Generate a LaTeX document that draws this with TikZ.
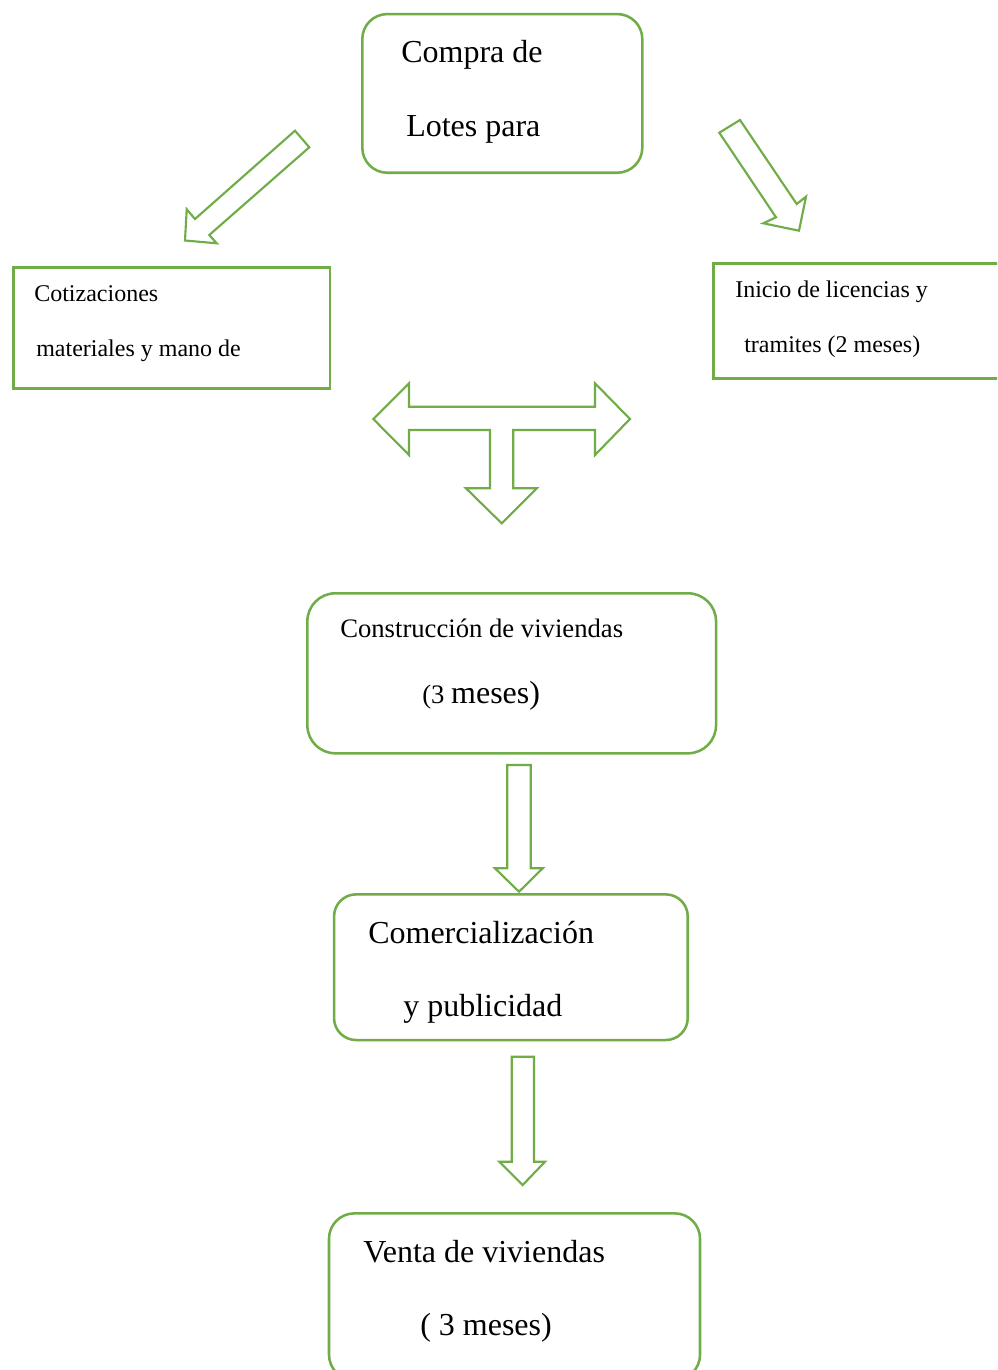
\documentclass[tikz,border=0pt]{standalone}
\usepackage{fontspec}
\setmainfont{Liberation Serif}
\definecolor{grn}{HTML}{70AD47}
\tikzset{
  box/.style={draw=grn, line width=1.9pt, fill=white, inner sep=0pt},
  rbox/.style={box, rounded corners=#1},
  txt/.style={anchor=base west, inner sep=0pt, text=black},
  blockarrow/.style={draw=grn, line width=1.6pt, fill=white, line join=miter}
}
\begin{document}
\begin{tikzpicture}[x=0.75pt, y=-0.75pt]
\useasboundingbox (0,0) rectangle (997,1370);
\fill[white] (0,0) rectangle (997,1370);
\begin{scope}
\clip (0,0) rectangle (997,1370);
% boxes
\node[rbox=18.75pt, minimum width=210pt, minimum height=119pt] (compra) at (502.3,93.4) {};
\node[box, minimum width=237.5pt, minimum height=90.75pt] (cotiz) at (171.7,327.8) {};
\node[box, minimum width=222.5pt, minimum height=86.25pt] (inicio) at (861.7,320.8) {};
\node[rbox=21pt, minimum width=306.5pt, minimum height=120pt] (constr) at (511.7,673.3) {};
\node[rbox=16.5pt, minimum width=265.25pt, minimum height=109.25pt] (comerc) at (510.9,967.2) {};
\node[rbox=19pt, minimum width=278.25pt, minimum height=125pt] (venta) at (514.5,1296.7) {};

% texts
\node[txt, font=\fontsize{24pt}{28pt}\selectfont] (t1) at (401,63) {Compra de};
\node[txt, font=\fontsize{24pt}{28pt}\selectfont] (t2) at (406,136) {Lotes para};
\node[txt, font=\fontsize{18pt}{22pt}\selectfont] (t3) at (34,301) {Cotizaciones};
\node[txt, font=\fontsize{18pt}{22pt}\selectfont] (t4) at (36,356) {materiales y mano de};
\node[txt, font=\fontsize{18pt}{22pt}\selectfont] (t5) at (735,297.5) {Inicio de licencias y};
\node[txt, font=\fontsize{18pt}{22pt}\selectfont] (t6) at (744,352) {tramites (2 meses)};
\node[txt, font=\fontsize{20pt}{24pt}\selectfont] (t7) at (340,637) {Construcción de viviendas};
\node[txt] (t8) at (422,703) {\fontsize{20pt}{24pt}\selectfont(3 \fontsize{24pt}{28pt}\selectfont meses)};
\node[txt, font=\fontsize{24pt}{28pt}\selectfont] (t9) at (368,943) {Comercialización};
\node[txt, font=\fontsize{24pt}{28pt}\selectfont] (t10) at (403,1016) {y publicidad};
\node[txt, font=\fontsize{24pt}{28pt}\selectfont] (t11) at (363,1262) {Venta de viviendas};
\node[txt, font=\fontsize{24pt}{28pt}\selectfont] (t12) at (420,1335.5) {( 3 meses)};
\end{scope}

% diagonal arrow to the left box
\draw[blockarrow] (295,130.7) -- (309.3,147.3) -- (209.3,235) -- (216.7,243.3)
  -- (185,240.5) -- (186.7,209.3) -- (195,219) -- cycle;
% diagonal arrow to the right box
\draw[blockarrow] (719.3,132.7) -- (740,120) -- (796.7,204) -- (806,196.7)
  -- (799,230.7) -- (763.3,223.3) -- (776,217.3) -- cycle;
% T-shaped three-way arrow
\draw[blockarrow] (373.3,419) -- (409,383.3) -- (409,406.7) -- (595,406.7) -- (595,383.3)
  -- (630,419) -- (595,455) -- (595,430) -- (513.3,430) -- (513.3,488.3) -- (536.7,488.3)
  -- (501.7,523.3) -- (466,488.3) -- (490,488.3) -- (490,430) -- (409,430) -- (409,455) -- cycle;
% down arrow: construction -> commercialisation
\draw[blockarrow] (507.3,765) -- (530.7,765) -- (530.7,868.3) -- (542.7,868.3)
  -- (519,891.7) -- (495,868.3) -- (507.3,868.3) -- cycle;
% down arrow: commercialisation -> sale
\draw[blockarrow] (511.7,1056.7) -- (534,1056.7) -- (534,1161.7) -- (545,1161.7)
  -- (522.7,1185) -- (499.3,1161.7) -- (511.7,1161.7) -- cycle;
\end{tikzpicture}
\end{document}
